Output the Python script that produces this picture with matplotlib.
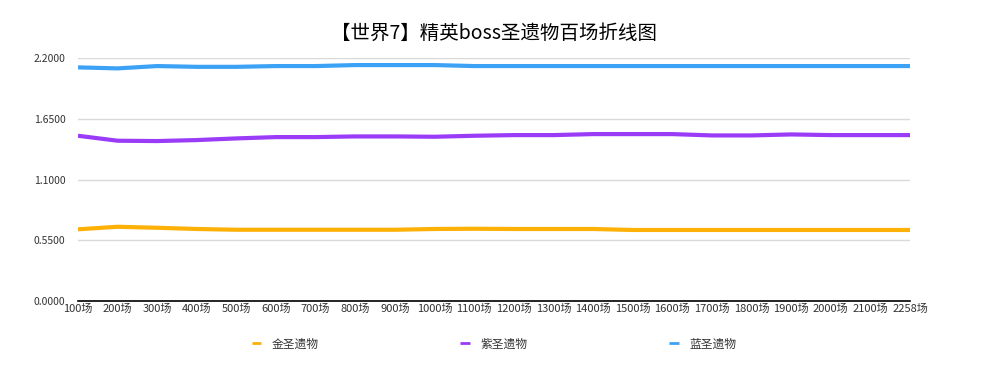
import matplotlib
matplotlib.use("Agg")
import matplotlib.pyplot as plt

plt.rcParams["font.family"] = ["Noto Sans CJK SC", "DejaVu Sans"]

# categories: runs counted so far
rounds = [f"{n}场" for n in range(100, 2200, 100)] + ["2258场"]

gold = [0.649, 0.672, 0.663, 0.652, 0.645, 0.645, 0.645, 0.645, 0.645, 0.652, 0.654,
        0.652, 0.652, 0.652, 0.643, 0.643, 0.643, 0.643, 0.643, 0.643, 0.643, 0.643]
purple = [1.496, 1.451, 1.448, 1.457, 1.472, 1.484, 1.484, 1.490, 1.490, 1.487, 1.496,
          1.502, 1.502, 1.511, 1.511, 1.511, 1.499, 1.499, 1.508, 1.502, 1.502, 1.502]
blue = [2.115, 2.106, 2.127, 2.120, 2.120, 2.127, 2.127, 2.136, 2.136, 2.136, 2.127,
        2.127, 2.127, 2.127, 2.127, 2.127, 2.127, 2.127, 2.127, 2.127, 2.127, 2.127]

series = [("金圣遗物", gold, "#FDB106"),
          ("紫圣遗物", purple, "#9A3BF7"),
          ("蓝圣遗物", blue, "#3CA2F6")]
yticks = [0.0, 0.55, 1.1, 1.65, 2.2]

fig = plt.figure(figsize=(9.88, 3.66), dpi=100)
ax = fig.add_axes([78 / 988, 65 / 366, 832 / 988, 243 / 366])

x = range(len(rounds))
for name, vals, col in series:
    ax.plot(x, vals, color=col, lw=3, label=name, solid_capstyle="butt", zorder=3)

ax.set_xlim(0, len(rounds) - 1)
ax.set_ylim(0, 2.2)
ax.set_yticks(yticks)
ax.set_yticklabels([f"{v:.4f}" for v in yticks], fontsize=7.5, color="#333333")
ax.set_xticks(list(x))
ax.set_xticklabels(rounds, fontsize=8, color="#333333")
ax.tick_params(axis="y", length=0, pad=9)
ax.tick_params(axis="x", length=0, pad=2)
ax.grid(axis="y", color="#d9d9d9", lw=1, zorder=0)
for s in ["top", "right", "left"]:
    ax.spines[s].set_visible(False)
ax.spines["bottom"].set_color("black")
ax.spines["bottom"].set_linewidth(1.2)
ax.spines["bottom"].set_zorder(4)

fig.suptitle("【世界7】精英boss圣遗物百场折线图", y=1 - 33 / 366, va="center",
             fontsize=14, color="black")

leg = fig.legend(loc="center", bbox_to_anchor=(0.5, 1 - 344 / 366), ncol=3, frameon=False,
                 fontsize=8.5, handlelength=0.8, handletextpad=0.9, columnspacing=12,
                 labelcolor="#333333")
for h in leg.legend_handles:
    h.set_linewidth(2)

fig.savefig("out.png", dpi=100)
